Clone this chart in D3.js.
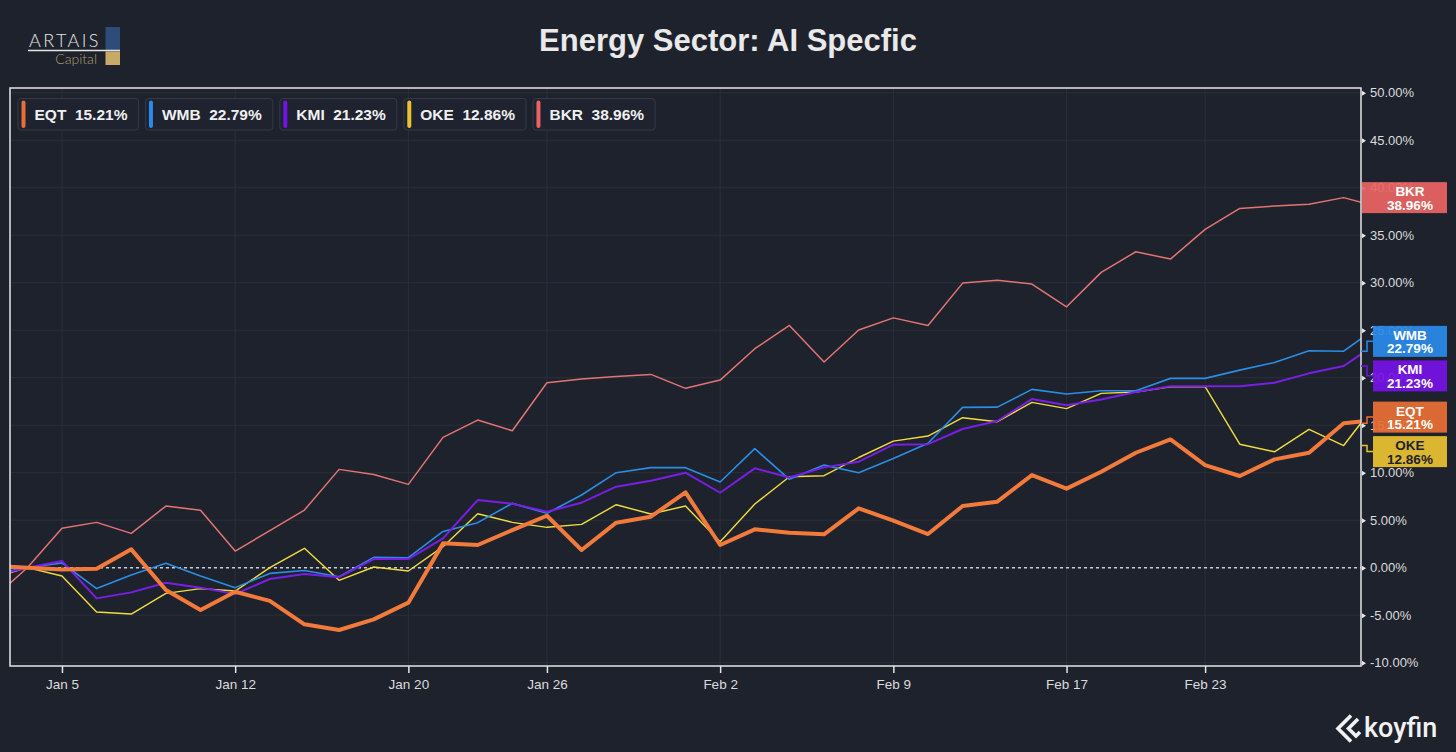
<!DOCTYPE html>
<html lang="en">
<head>
<meta charset="UTF-8">
<title>Energy Sector: AI Specfic</title>
<script src="https://d3js.org/d3.v7.min.js"></script>
<style>
  html, body { margin: 0; padding: 0; background: #1e222d; overflow: hidden; }
  svg { display: block; font-family: "Liberation Sans", Arial, sans-serif; }
</style>
</head>
<body>
<div id="chart"></div>
<script>
// trading days shown (first and last are half cut off by the plot edges)
const dates = ["Dec 31", "Jan 2", "Jan 5", "Jan 6", "Jan 7", "Jan 8", "Jan 9",
  "Jan 12", "Jan 13", "Jan 14", "Jan 15", "Jan 16", "Jan 20", "Jan 21", "Jan 22", "Jan 23",
  "Jan 26", "Jan 27", "Jan 28", "Jan 29", "Jan 30", "Feb 2", "Feb 3", "Feb 4", "Feb 5", "Feb 6",
  "Feb 9", "Feb 10", "Feb 11", "Feb 12", "Feb 13", "Feb 17", "Feb 18", "Feb 19", "Feb 20",
  "Feb 23", "Feb 24", "Feb 25", "Feb 26", "Feb 27", "Mar 2"];
const tickDates = ["Jan 5", "Jan 12", "Jan 20", "Jan 26", "Feb 2", "Feb 9", "Feb 17", "Feb 23"];
const yTicks = [-10, -5, 0, 5, 10, 15, 20, 25, 30, 35, 40, 45, 50];

const tickers = ["EQT", "WMB", "KMI", "OKE", "BKR"];
// % change
const eqt = [0.2, 0, -0.18, -0.1, 1.93, -2.35, -4.46, -2.53, -3.5, -5.96, -6.56, -5.44, -3.68,
  2.56, 2.39, 3.96, 5.47, 1.86, 4.74, 5.37, 7.93, 2.39, 4.04, 3.68, 3.51, 6.25, 4.95, 3.54,
  6.49, 6.95, 9.75, 8.32, 10.1, 12.1, 13.5, 10.8, 9.65, 11.4, 12.1, 15.21, 15.56];
const wmb = [-0.64, 0, 0.5, -2.2, -0.77, 0.46, -0.88, -2.1, -0.6, -0.3, -0.95, 1.09, 1.05,
  3.82, 4.74, 6.77, 5.72, 7.65, 10.0, 10.53, 10.53, 9.02, 12.53, 9.3, 10.8, 10.0, 11.5, 13.1,
  16.88, 16.9, 18.77, 18.28, 18.63, 18.63, 19.93, 19.93, 20.8, 21.6, 22.84, 22.79, 25.4];
const kmi = [-0.84, 0, 0.7, -3.23, -2.6, -1.58, -2.1, -2.77, -1.19, -0.67, -1.0, 0.91, 0.91,
  3.09, 7.12, 6.74, 5.89, 6.84, 8.53, 9.16, 10.0, 7.89, 10.46, 9.5, 10.56, 11.16, 12.95, 13.0,
  14.6, 15.44, 17.75, 17.09, 17.7, 18.5, 19.1, 19.1, 19.1, 19.47, 20.46, 21.23, 23.7];
const oke = [-1.05, 0, -0.88, -4.67, -4.88, -2.7, -2.2, -2.46, 0.0, 2.04, -1.33, 0.07, -0.35,
  2.21, 5.68, 4.77, 4.25, 4.56, 6.63, 5.65, 6.49, 2.74, 6.7, 9.58, 9.68, 11.6, 13.33, 13.86,
  15.79, 15.37, 17.4, 16.74, 18.35, 18.5, 19.05, 19.05, 13.0, 12.2, 14.56, 12.86, 17.6];
const bkr = [-3.3, 0, 4.14, 4.77, 3.61, 6.49, 6.04, 1.75, 3.9, 6.07, 10.35, 9.82, 8.77,
  13.72, 15.54, 14.42, 19.47, 19.86, 20.14, 20.35, 18.88, 19.75, 23.05, 25.5, 21.65, 25.02,
  26.3, 25.5, 29.96, 30.25, 29.86, 27.47, 31.09, 33.26, 32.49, 35.61, 37.82, 38.07, 38.25,
  38.96, 38.0];
const lastValues = [15.21, 22.79, 21.23, 12.86, 38.96];

const seriesValues = [eqt, wmb, kmi, oke, bkr];
const lineColors = ["#f27a3a", "#2b8ee6", "#7a1ee6", "#f2dd3e", "#e47472"];
const boxColors = ["#e86f35", "#2a8ae8", "#7512e6", "#e9c232", "#e96462"];
const boxText = ["#ffffff", "#ffffff", "#ffffff", "#1e222d", "#ffffff"];
const lineWidths = [4, 1.6, 2, 1.4, 1.5];
const drawOrder = [4, 3, 1, 2, 0];

const width = 1456, height = 752;
const plot = { left: 10, right: 1361, top: 88, bottom: 666 };
const bg = "#1e222d";
const grid = "#2a2f3b";

const svg = d3.select("#chart").append("svg")
  .attr("width", width)
  .attr("height", height);

svg.append("rect").attr("width", width).attr("height", height).attr("fill", bg);

const step = (plot.right - plot.left) / (dates.length - 2);
const x = d3.scalePoint()
  .domain(dates)
  .range([plot.left - step / 2, plot.right + step / 2]);

const y = d3.scaleLinear()
  .domain([-10.35, 50.5])
  .range([plot.bottom, plot.top]);

// grid
svg.append("g").selectAll("line")
  .data(yTicks)
  .enter().append("line")
  .attr("x1", plot.left).attr("x2", plot.right)
  .attr("y1", d => y(d)).attr("y2", d => y(d))
  .attr("stroke", grid).attr("stroke-width", 1);

svg.append("g").selectAll("line")
  .data(tickDates)
  .enter().append("line")
  .attr("x1", d => x(d)).attr("x2", d => x(d))
  .attr("y1", plot.top).attr("y2", plot.bottom)
  .attr("stroke", grid).attr("stroke-width", 1);

// zero line
svg.append("line")
  .attr("x1", plot.left).attr("x2", plot.right)
  .attr("y1", y(0)).attr("y2", y(0))
  .attr("stroke", "#c9ccd3")
  .attr("stroke-width", 1.5)
  .attr("stroke-dasharray", "3,3");

svg.append("clipPath").attr("id", "clip")
  .append("rect")
  .attr("x", plot.left).attr("y", plot.top)
  .attr("width", plot.right - plot.left)
  .attr("height", plot.bottom - plot.top);

const line = d3.line()
  .x((d, i) => x(dates[i]))
  .y(d => y(d));

svg.append("g").attr("clip-path", "url(#clip)")
  .selectAll("path")
  .data(drawOrder)
  .enter().append("path")
  .attr("d", k => line(seriesValues[k]))
  .attr("fill", "none")
  .attr("stroke", k => lineColors[k])
  .attr("stroke-width", k => lineWidths[k])
  .attr("stroke-linejoin", "round");

// frame
svg.append("rect")
  .attr("x", plot.left).attr("y", plot.top)
  .attr("width", plot.right - plot.left)
  .attr("height", plot.bottom - plot.top)
  .attr("fill", "none")
  .attr("stroke", "#e6e6e6")
  .attr("stroke-width", 1.5);

// x axis
const xAxis = svg.append("g")
  .attr("transform", `translate(0,${plot.bottom})`)
  .call(d3.axisBottom(x).tickValues(tickDates).tickSize(7).tickPadding(6));
xAxis.select(".domain").remove();
xAxis.selectAll("line").attr("stroke", "#e6e6e6").attr("stroke-width", 1.5);
xAxis.selectAll("text")
  .attr("fill", "#dcdcdc")
  .style("font-size", "13.5px")
  .style("font-family", "'Liberation Sans', Arial, sans-serif");

// y axis (right)
const yAxis = svg.append("g")
  .attr("transform", `translate(${plot.right},0)`)
  .call(d3.axisRight(y).tickValues(yTicks).tickSize(0).tickPadding(9)
    .tickFormat(d => d.toFixed(2) + "%"));
yAxis.select(".domain").remove();
yAxis.selectAll(".tick").append("path")
  .attr("d", "M1,-2.5 L5,0 L1,2.5 Z")
  .attr("fill", "#e6e6e6");
yAxis.selectAll("text")
  .attr("fill", "#dcdcdc")
  .style("font-size", "13px")
  .style("font-family", "'Liberation Sans', Arial, sans-serif");

// last value labels on the right axis
const boxH = 31, sep = 34.5;
const labels = tickers.map((t, k) => ({ k, vy: y(lastValues[k]), by: y(lastValues[k]) }))
  .sort((a, b) => a.vy - b.vy);
for (let it = 0; it < 60; it++) {
  for (let i = 1; i < labels.length; i++) {
    const a = labels[i - 1], b = labels[i];
    const gap = b.by - a.by;
    if (gap < sep) {
      const push = (sep - gap) / 2;
      a.by -= push;
      b.by += push;
    }
  }
}

const lab = svg.append("g");
labels.forEach(l => {
  const moved = Math.abs(l.by - l.vy) > 0.5;
  const bx = moved ? 1373 : 1362;
  const bw = 1447 - bx;
  if (moved) {
    lab.append("path")
      .attr("d", `M${plot.right},${l.vy} H1367 V${l.by} H${bx}`)
      .attr("fill", "none")
      .attr("stroke", boxColors[l.k])
      .attr("stroke-width", 1.5);
  }
  lab.append("rect")
    .attr("x", bx).attr("y", l.by - boxH / 2)
    .attr("width", bw).attr("height", boxH)
    .attr("fill", boxColors[l.k])
    .attr("fill-opacity", 0.93);
  const t = lab.append("text")
    .attr("text-anchor", "middle")
    .attr("fill", boxText[l.k])
    .style("font-size", "13.5px")
    .style("font-weight", "bold");
  t.append("tspan").attr("x", 1410).attr("y", l.by - 1.5).text(tickers[l.k]);
  t.append("tspan").attr("x", 1410).attr("y", l.by + 12).text(lastValues[l.k].toFixed(2) + "%");
});

// legend
const legend = svg.append("g");
let lx = 18;
tickers.forEach((t, k) => {
  const g = legend.append("g");
  const box = g.append("rect")
    .attr("x", lx).attr("y", 98.5)
    .attr("height", 31.5)
    .attr("rx", 3)
    .attr("fill", "#1f2330")
    .attr("stroke", "#363a47")
    .attr("stroke-width", 1);
  g.append("rect")
    .attr("x", lx + 3.5).attr("y", 100.5)
    .attr("width", 4).attr("height", 27.5)
    .attr("rx", 2)
    .attr("fill", boxColors[k]);
  const txt = g.append("text")
    .attr("x", lx + 16.5).attr("y", 120)
    .attr("fill", "#f0f0f0")
    .style("font-size", "15.5px")
    .style("font-weight", "bold");
  txt.append("tspan").text(t);
  txt.append("tspan").attr("dx", 8.5).text(lastValues[k].toFixed(2) + "%");
  const w = txt.node().getComputedTextLength() + 8.5;
  const bw = w + 16.5 + 11;
  box.attr("width", bw);
  lx += bw + 7;
});

// title
svg.append("text")
  .attr("x", width / 2).attr("y", 51)
  .attr("text-anchor", "middle")
  .attr("fill", "#e9e9e9")
  .style("font-size", "31px")
  .style("font-weight", "bold")
  .text("Energy Sector: AI Specfic");

// ARTAIS logo
const logo = svg.append("g");
logo.append("rect").attr("x", 105.5).attr("y", 27).attr("width", 14.5).attr("height", 23.5).attr("fill", "#2d4c7a");
logo.append("rect").attr("x", 105.5).attr("y", 51.5).attr("width", 14.5).attr("height", 13.5).attr("fill", "#c8aa68");
logo.append("text")
  .attr("x", 29).attr("y", 47)
  .attr("fill", "#e6e6e6")
  .style("font-family", "Lato, 'Open Sans', sans-serif")
  .style("font-weight", 300)
  .style("font-size", "18px")
  .style("letter-spacing", "2.4px")
  .text("ARTAIS");
logo.append("line")
  .attr("x1", 28).attr("x2", 120).attr("y1", 50.5).attr("y2", 50.5)
  .attr("stroke", "#e6e6e6").attr("stroke-width", 1.3);
logo.append("text")
  .attr("x", 97).attr("y", 63.5)
  .attr("text-anchor", "end")
  .attr("fill", "#b59d69")
  .style("font-family", "Lato, 'Open Sans', sans-serif")
  .style("font-weight", 300)
  .style("font-size", "14px")
  .text("Capital");

// koyfin mark
const kf = svg.append("g");
kf.append("path")
  .attr("d", "M1351,715.5 L1338,728.5 L1351,741.5")
  .attr("fill", "none").attr("stroke", "#f2f2f2").attr("stroke-width", 3.6);
kf.append("path")
  .attr("d", "M1358,719 L1348.5,728.5 L1356,736 L1360,732")
  .attr("fill", "none").attr("stroke", "#f2f2f2").attr("stroke-width", 3.6);
kf.append("text")
  .attr("x", 1364).attr("y", 737)
  .attr("fill", "#f2f2f2")
  .style("font-family", "Roboto, 'Liberation Sans', sans-serif")
  .style("font-weight", 500)
  .style("font-size", "27px")
  .text("koyfin");
</script>
</body>
</html>
